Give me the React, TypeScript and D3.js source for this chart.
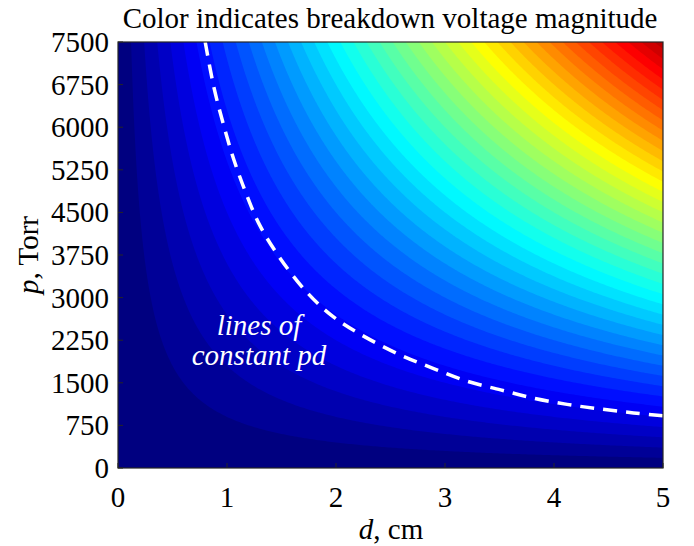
import React, { useMemo } from 'react';
import * as d3 from 'd3';

const WIDTH = 694;
const HEIGHT = 546;

// Axis ranges and ticks
const D_DOMAIN: [number, number] = [0, 5];
const P_DOMAIN: [number, number] = [0, 7500];
const D_TICKS = [0, 1, 2, 3, 4, 5];
const P_TICKS = [0, 750, 1500, 2250, 3000, 3750, 4500, 5250, 6000, 6750, 7500];

// Breakdown voltage in the high-pd regime grows with the product p·d
const KV_PER_TORR_CM = 0.04;
const LEVEL_STEP_KV = 36;
const COLOUR_MAX_KV = 1560;

// Dashed guide curve (d in cm, p in Torr)
const GUIDE_D = [0.8, 0.88, 0.97, 1.06, 1.17, 1.3, 1.49, 1.73, 1.95, 2.2, 2.59, 2.89, 3.2, 3.51, 3.81, 4.12, 4.42, 4.73, 5.0];
const GUIDE_P = [7500, 6700, 6030, 5445, 4860, 4275, 3685, 3100, 2700, 2380, 1990, 1755, 1530, 1375, 1230, 1120, 1040, 970, 918];

const GRID_NX = 251;
const GRID_NY = 201;

const PLOT = { left: 118, right: 663, top: 42, bottom: 468 };
const FONT = '"Liberation Serif", "Times New Roman", Times, serif';

function jet(t: number): string {
  const c = (v: number) => Math.round(255 * Math.max(0, Math.min(1, v)));
  const r = 1.5 - Math.abs(4 * t - 3);
  const g = 1.5 - Math.abs(4 * t - 2);
  const b = 1.5 - Math.abs(4 * t - 1);
  return `rgb(${c(r)},${c(g)},${c(b)})`;
}

export default function App() {
  const x = d3.scaleLinear().domain(D_DOMAIN).range([PLOT.left, PLOT.right]);
  const y = d3.scaleLinear().domain(P_DOMAIN).range([PLOT.bottom, PLOT.top]);

  const bands = useMemo(() => {
    const values = new Float64Array(GRID_NX * GRID_NY);
    for (let j = 0; j < GRID_NY; j++) {
      const p = P_DOMAIN[0] + (j / (GRID_NY - 1)) * (P_DOMAIN[1] - P_DOMAIN[0]);
      for (let i = 0; i < GRID_NX; i++) {
        const d = D_DOMAIN[0] + (i / (GRID_NX - 1)) * (D_DOMAIN[1] - D_DOMAIN[0]);
        values[j * GRID_NX + i] = KV_PER_TORR_CM * p * d;
      }
    }
    const maxV = d3.max(values) as number;
    const levels = d3.range(LEVEL_STEP_KV, maxV, LEVEL_STEP_KV);
    const contours = d3.contours().size([GRID_NX, GRID_NY]).thresholds(levels)(Array.from(values));
    const gx = d3.scaleLinear().domain([0.5, GRID_NX - 0.5]).range([x(D_DOMAIN[0]), x(D_DOMAIN[1])]);
    const gy = d3.scaleLinear().domain([0.5, GRID_NY - 0.5]).range([y(P_DOMAIN[0]), y(P_DOMAIN[1])]);
    return contours.map((c) => {
      let path = '';
      for (const poly of c.coordinates) {
        for (const ring of poly) {
          ring.forEach((pt, k) => {
            path += (k === 0 ? 'M' : 'L') + gx(pt[0]).toFixed(2) + ',' + gy(pt[1]).toFixed(2);
          });
          path += 'Z';
        }
      }
      return { value: c.value, path };
    });
  }, []);

  const guide = d3
    .line<number>()
    .x((_, i) => x(GUIDE_D[i]))
    .y((v) => y(v))
    .curve(d3.curveCatmullRom.alpha(0.5))(GUIDE_P) as string;

  const w = PLOT.right - PLOT.left;
  const h = PLOT.bottom - PLOT.top;

  return (
    <svg
      width={WIDTH}
      height={HEIGHT}
      style={{ position: 'absolute', left: 0, top: 0, background: '#fff' }}
      fontFamily={FONT}
    >
      <defs>
        <clipPath id="plot-area">
          <rect x={PLOT.left} y={PLOT.top} width={w} height={h} />
        </clipPath>
      </defs>
      <g clipPath="url(#plot-area)">
        <rect x={PLOT.left} y={PLOT.top} width={w} height={h} fill={jet(0)} />
        {bands.map((b) => (
          <path key={b.value} d={b.path} fill={jet(b.value / COLOUR_MAX_KV)} fillRule="evenodd" />
        ))}
        <path d={guide} fill="none" stroke="#fff" strokeWidth={3.5} strokeDasharray="14,9" />
        <text x={259} y={335} fill="#fff" fontSize={29} fontStyle="italic" textAnchor="middle">
          lines of
        </text>
        <text x={259} y={365} fill="#fff" fontSize={29} fontStyle="italic" textAnchor="middle">
          constant pd
        </text>
      </g>

      {/* inward ticks */}
      {D_TICKS.map((t) => (
        <line key={'xt' + t} x1={x(t)} x2={x(t)} y1={PLOT.bottom} y2={PLOT.bottom - 5} stroke="#262626" strokeWidth={1} />
      ))}
      {P_TICKS.map((t) => (
        <line key={'yt' + t} x1={PLOT.left} x2={PLOT.left + 5} y1={y(t)} y2={y(t)} stroke="#262626" strokeWidth={1} />
      ))}
      <rect x={PLOT.left} y={PLOT.top} width={w} height={h} fill="none" stroke="#262626" strokeWidth={1.2} />

      {/* tick labels */}
      {D_TICKS.map((t) => (
        <text key={'xl' + t} x={x(t)} y={507} fontSize={29} textAnchor="middle" fill="#000">
          {t}
        </text>
      ))}
      {P_TICKS.map((t) => (
        <text key={'yl' + t} x={109} y={y(t) + 10} fontSize={29} textAnchor="end" fill="#000">
          {t}
        </text>
      ))}

      {/* titles */}
      <text x={390} y={28} fontSize={29} textAnchor="middle" fill="#000">
        Color indicates breakdown voltage magnitude
      </text>
      <text x={391} y={539} fontSize={29} textAnchor="middle" fill="#000">
        <tspan fontStyle="italic">d</tspan>, cm
      </text>
      <text transform="translate(38,255) rotate(-90)" fontSize={29} textAnchor="middle" fill="#000">
        <tspan fontStyle="italic">p</tspan>, Torr
      </text>
    </svg>
  );
}
